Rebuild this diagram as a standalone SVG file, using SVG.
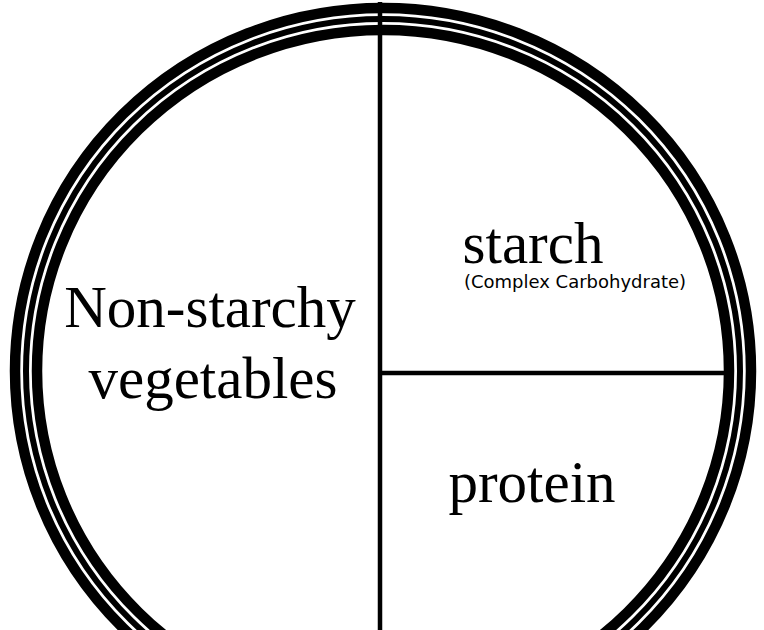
<svg xmlns="http://www.w3.org/2000/svg" width="764" height="630" viewBox="0 0 764 630">
<style>
.band{fill:none;stroke:#000}
.ln{stroke:#000;stroke-width:4.5;fill:none}
.big{font-family:"Liberation Serif","Times New Roman",serif;font-size:59px;fill:#000;text-anchor:middle}
.small{font-family:"DejaVu Sans",Verdana,sans-serif;font-size:18px;fill:#000;text-anchor:middle}
</style>
<rect width="764" height="630" fill="#fff"/>
<g id="plate">
<ellipse class="band" cx="383" cy="371" rx="368" ry="363" stroke-width="10.5"/>
<ellipse class="band" cx="383" cy="371" rx="357" ry="352" stroke-width="6"/>
<ellipse class="band" cx="383" cy="371" rx="346" ry="341" stroke-width="10.5"/>
</g>
<g id="connectors">
<line class="ln" x1="380" y1="2" x2="380" y2="630"/>
<line class="ln" x1="380" y1="373" x2="726" y2="373" stroke-width="4"/>
</g>
<g id="vegetables">
<text class="big" x="210" y="327">Non-starchy</text>
<text class="big" x="213" y="398">vegetables</text>
</g>
<g id="starch">
<text class="big" x="533" y="263">starch</text>
<text class="small" x="575" y="288">(Complex Carbohydrate)</text>
</g>
<g id="protein">
<text class="big" x="532" y="502">protein</text>
</g>
</svg>
